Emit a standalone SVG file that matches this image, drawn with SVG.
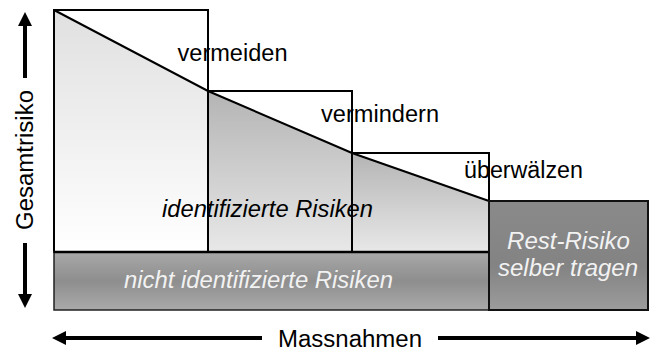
<svg xmlns="http://www.w3.org/2000/svg" width="655" height="351" viewBox="0 0 655 351">
<style>
.lbl{font-family:"Liberation Sans",Arial,sans-serif;font-size:23px;fill:#000}
.it{font-style:italic}
.wt{fill:#f2f2f2}
.edge{fill:none;stroke:#000;stroke-width:2}
.arr{stroke:#000;stroke-width:4;fill:none}
</style>
<defs>
<linearGradient id="g1" x1="0" y1="0" x2="0" y2="1"><stop offset="0" stop-color="#e0e0e0"/><stop offset="1" stop-color="#ffffff"/></linearGradient>
<linearGradient id="g2" x1="0" y1="0" x2="0" y2="1"><stop offset="0" stop-color="#b4b4b4"/><stop offset="1" stop-color="#e8e8e8"/></linearGradient>
<linearGradient id="gb" x1="0" y1="0" x2="0" y2="1"><stop offset="0" stop-color="#a8a8a8"/><stop offset="0.5" stop-color="#8e8e8e"/><stop offset="1" stop-color="#aaaaaa"/></linearGradient>
<linearGradient id="gr" x1="0" y1="0" x2="0" y2="1"><stop offset="0" stop-color="#8a8a8a"/><stop offset="0.6" stop-color="#838383"/><stop offset="1" stop-color="#9c9c9c"/></linearGradient>
<marker id="ah" viewBox="0 0 14 14" markerWidth="14" markerHeight="14" markerUnits="userSpaceOnUse" refX="0" refY="7" orient="auto"><path d="M0,0 L14,7 L0,14 z" fill="#000"/></marker>
</defs>
<g id="box-vermeiden">
<polygon points="54,10 208,91 208,252 54,252" fill="url(#g1)"/>
<rect x="54" y="10" width="154" height="242" class="edge"/>
<text class="lbl" x="177.5" y="60.5" textLength="110" lengthAdjust="spacingAndGlyphs">vermeiden</text>
</g>
<g id="box-vermindern">
<polygon points="208,91 352,153 352,252 208,252" fill="url(#g2)"/>
<rect x="208" y="91" width="144" height="161" class="edge"/>
<text class="lbl" x="321" y="122" textLength="118" lengthAdjust="spacingAndGlyphs">vermindern</text>
</g>
<g id="box-ueberwaelzen">
<polygon points="352,153 489,201 489,252 352,252" fill="url(#g2)"/>
<rect x="352" y="153" width="137" height="99" class="edge"/>
<text class="lbl" x="464" y="178" textLength="119" lengthAdjust="spacingAndGlyphs">überwälzen</text>
</g>
<g id="risk-line">
<polyline points="54,10 208,91 352,153 489,201" class="edge"/>
<text class="lbl it" x="162" y="217" textLength="211" lengthAdjust="spacingAndGlyphs">identifizierte Risiken</text>
</g>
<g id="band-nicht-identifiziert">
<rect x="54" y="252" width="435" height="58" fill="url(#gb)" stroke="#222" stroke-width="1.5"/>
<line x1="54" y1="252" x2="489" y2="252" stroke="#000" stroke-width="2.5"/>
<text class="lbl it wt" x="124" y="288" textLength="269" lengthAdjust="spacingAndGlyphs">nicht identifizierte Risiken</text>
</g>
<g id="box-rest-risiko">
<rect x="489" y="201" width="159" height="109" fill="url(#gr)" stroke="#111" stroke-width="2"/>
<text class="lbl it wt" x="507" y="249" textLength="123" lengthAdjust="spacingAndGlyphs">Rest-Risiko</text>
<text class="lbl it wt" x="498" y="276" textLength="140" lengthAdjust="spacingAndGlyphs">selber tragen</text>
</g>
<g id="axis-y">
<text class="lbl" transform="translate(33,230) rotate(-90)" x="0" y="0" textLength="140" lengthAdjust="spacingAndGlyphs">Gesamtrisiko</text>
</g>
<g id="axis-x">
<text class="lbl" x="278" y="347" textLength="144" lengthAdjust="spacingAndGlyphs">Massnahmen</text>
</g>
<g id="connectors">
<line class="arr" x1="25" y1="78" x2="25" y2="26" marker-end="url(#ah)"/>
<line class="arr" x1="25" y1="243" x2="25" y2="294" marker-end="url(#ah)"/>
<line class="arr" x1="262" y1="338" x2="66" y2="338" marker-end="url(#ah)"/>
<line class="arr" x1="438" y1="338" x2="636" y2="338" marker-end="url(#ah)"/>
</g>
</svg>
